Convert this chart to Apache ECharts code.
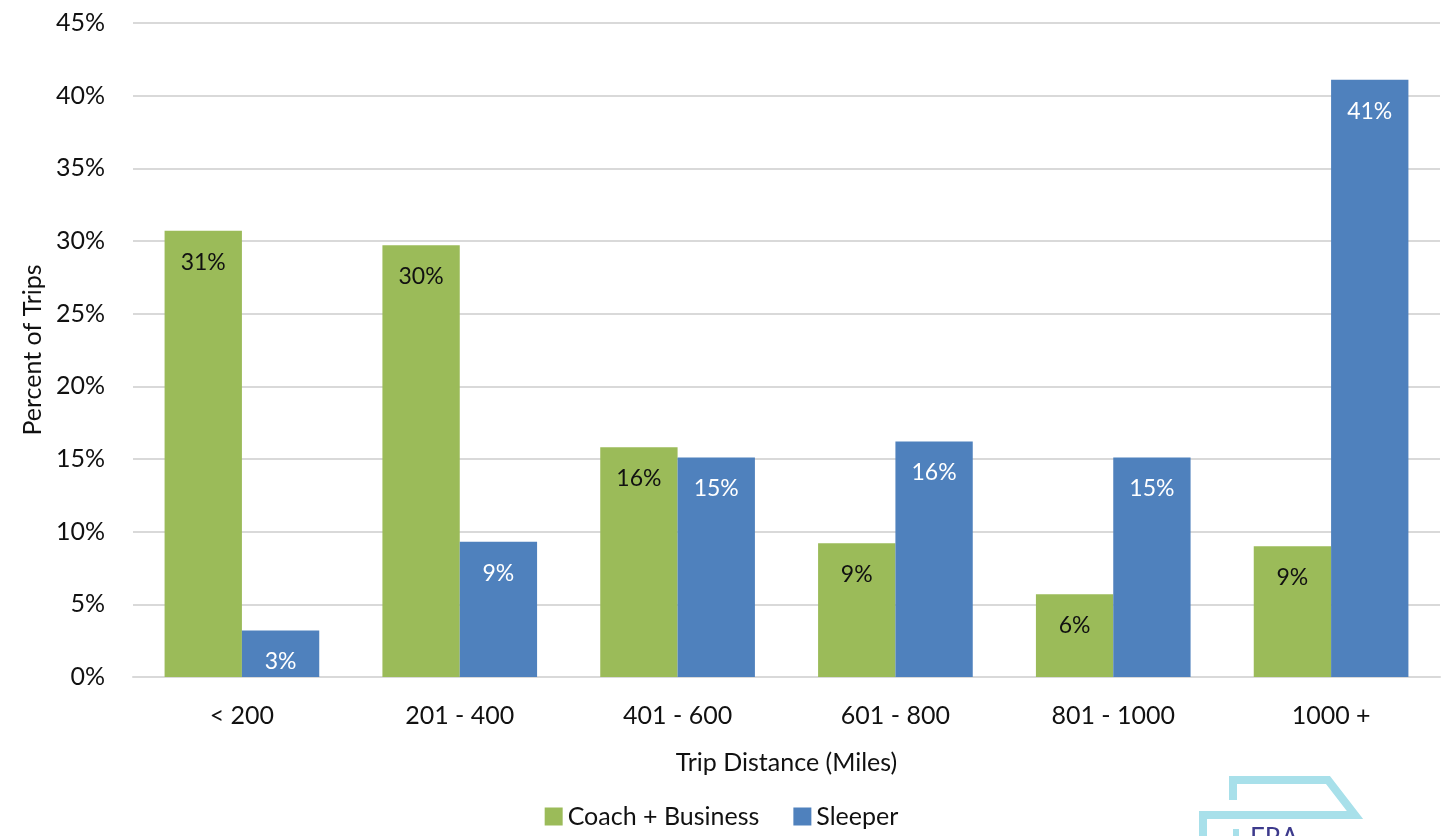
<!DOCTYPE html>
<html><head><meta charset="utf-8">
<script src="https://cdn.jsdelivr.net/npm/echarts@6/dist/echarts.min.js"></script>
<style>html,body{margin:0;padding:0;background:#fff}#c{width:1443px;height:836px}</style>
</head><body><div id="c"></div>
<script>
const categories = ['< 200', '201 - 400', '401 - 600', '601 - 800', '801 - 1000', '1000 +'];
const coachBusiness = [30.7, 29.7, 15.8, 9.2, 5.7, 9.0];
const sleeper = [3.2, 9.3, 15.1, 16.2, 15.1, 41.1];
const yTicks = [0, 5, 10, 15, 20, 25, 30, 35, 40, 45];

const FONT = 'Lato';
const chart = echarts.init(document.getElementById('c'), null, {renderer: 'canvas'});
const lbl = (color) => ({
  show: true, position: 'insideTop', distance: 20, color: color,
  fontFamily: FONT, fontSize: 23,
  formatter: p => Math.round(p.value) + '%'
});
chart.setOption({
  animation: false,
  textStyle: {fontFamily: FONT},
  grid: {left: 133, right: 3, top: 23, bottom: 159, containLabel: false},
  legend: {
    data: ['Coach + Business', 'Sleeper'], bottom: 2, left: 'center',
    icon: 'rect', itemWidth: 18, itemHeight: 18, itemGap: 34,
    textStyle: {fontFamily: FONT, fontSize: 25, color: '#111'}
  },
  xAxis: {
    type: 'category', data: categories,
    axisLine: {show: true, lineStyle: {color: '#d9d9d9', width: 2}},
    axisTick: {show: false},
    axisLabel: {fontFamily: FONT, fontSize: 25, color: '#111', margin: 26},
    name: 'Trip Distance (Miles)', nameLocation: 'middle', nameGap: 73,
    nameTextStyle: {fontFamily: FONT, fontSize: 25, color: '#111'}
  },
  yAxis: {
    type: 'value', min: 0, max: 45, interval: 5,
    axisLine: {show: false}, axisTick: {show: false},
    splitLine: {lineStyle: {color: '#d9d9d9', width: 2}},
    axisLabel: {fontFamily: FONT, fontSize: 25, color: '#111', margin: 28,
      formatter: v => yTicks.includes(v) ? v + '%' : ''},
    name: 'Percent of Trips', nameLocation: 'middle', nameGap: 88, nameRotate: 90,
    nameTextStyle: {fontFamily: FONT, fontSize: 25, color: '#111'}
  },
  series: [
    {name: 'Coach + Business', type: 'bar', data: coachBusiness, barGap: '0%', barCategoryGap: '29%',
     itemStyle: {color: '#9BBB59'}, label: lbl('#111')},
    {name: 'Sleeper', type: 'bar', data: sleeper,
     itemStyle: {color: '#4F81BD'}, label: lbl('#fff')}
  ],
  graphic: [
    {type: 'polyline', shape: {points: [[1233, 800], [1233, 780], [1328, 780], [1355, 815], [1203, 815], [1203, 836]]},
     style: {stroke: '#A8E0EA', lineWidth: 8, fill: null}},
    {type: 'line', shape: {x1: 1236, y1: 829, x2: 1236, y2: 836}, style: {stroke: '#A8E0EA', lineWidth: 6}},
    {type: 'text', left: 1250, top: 826, style: {text: 'FRA', fill: '#3D3A8C', fontFamily: FONT, fontSize: 26}}
  ]
});
</script></body></html>
